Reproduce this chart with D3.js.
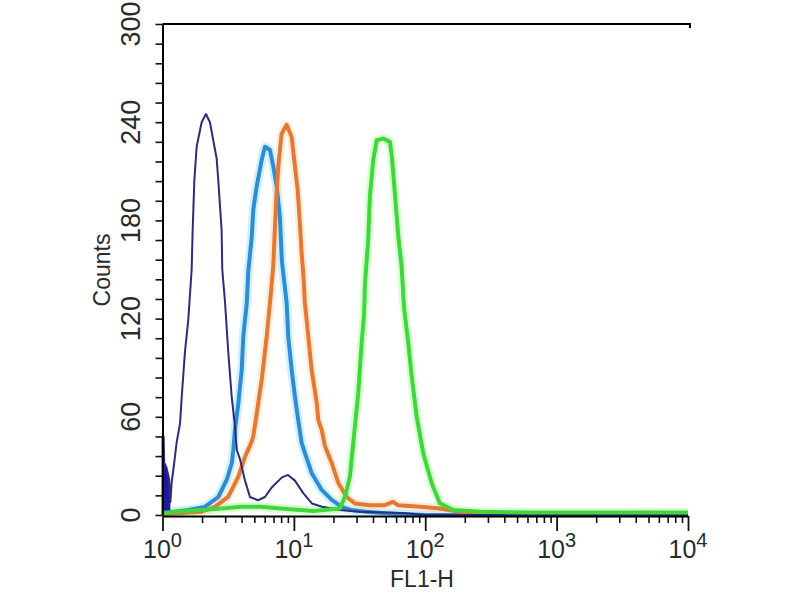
<!DOCTYPE html>
<html><head><meta charset="utf-8">
<script src="https://cdn.jsdelivr.net/npm/d3@7"></script>
<style>body{margin:0;background:#fff}</style>
</head><body>
<svg id="c" width="800" height="600"></svg>
<script>
// ---- data (FL1-H value, counts) ----
const yTickValues = [0, 60, 120, 180, 240, 300];
const xDecades = [1, 10, 100, 1000, 10000];
const xDecadeExponents = ["0", "1", "2", "3", "4"];
const xAxisTitle = "FL1-H";
const yAxisTitle = "Counts";

const navyX = [1, 1, 1.02, 1.03, 1.072, 1.122, 1.148, 1.175, 1.22, 1.28, 1.36, 1.40, 1.48, 1.57, 1.667, 1.694, 1.746, 1.82, 1.986, 2.143, 2.296, 2.582, 2.661, 2.818, 2.851, 2.992, 3.17, 3.365, 3.565, 3.673, 3.89, 4.246, 4.634, 5.333, 6.026, 6.808, 8.11, 9.016, 10.19, 11.75, 13.74, 16.37, 22.39, 31.62, 50.12, 70.8, 100, 10000];
const navyY = [0, 48, 48, 32, 29, 22, 8, 20, 30, 44, 56, 72, 99, 119, 150, 172, 204, 225, 240, 245, 240, 218, 204, 174, 150, 130, 99, 72, 54, 40, 34, 21, 11, 9, 11, 17, 23, 24.5, 21, 13.5, 7, 5, 3, 2, 1.5, 1, 0, 0];
const navySpikeEnd = 1.15;

const blueX = [1, 1.17, 1.56, 2.10, 2.66, 3.08, 3.37, 3.46, 3.56, 3.78, 4.01, 4.12, 4.38, 4.50, 4.78, 4.91, 5.21, 5.69, 6.03, 6.58, 6.97, 7.40, 7.83, 8.11, 8.81, 9.06, 9.62, 10.19, 10.79, 11.46, 12.13, 13.65, 16.29, 19.41, 23.12, 27.5, 35.5, 50, 100, 10000];
const blueY = [1.5, 1.8, 3, 4.9, 11, 21.4, 31.8, 39.7, 52, 68.5, 88.7, 109, 129.6, 149, 170, 186.5, 200.7, 217, 225, 223, 213, 200.7, 182, 155, 129.6, 109, 88.7, 72.3, 58, 44, 38, 25.7, 15.3, 9.2, 4.9, 3, 2, 1, 0, 0];

const orangeX = [1, 1.99, 2.51, 3.17, 3.78, 4.25, 4.78, 4.91, 5.36, 5.69, 6.21, 6.58, 6.97, 7.18, 7.40, 7.69, 8.07, 8.81, 9.62, 10.19, 10.69, 11.12, 11.46, 11.80, 12.13, 12.88, 13.65, 14.93, 15.35, 16.29, 17.26, 19.41, 21.78, 25.23, 29.17, 37.93, 49.32, 56.75, 61.94, 91.2, 128.8, 182, 263, 10000];
const orangeY = [0.5, 2, 5, 11.2, 23.4, 35.6, 45, 48, 68.5, 82.5, 109, 129.6, 152, 176, 198.7, 217, 233, 238.4, 231, 213, 198.7, 178, 160, 147, 129.6, 109, 88.7, 68.5, 58, 52, 42, 31.8, 19.6, 11, 7, 6, 6, 8, 6, 5, 4, 2, 0.5, 0];

const greenX = [1, 1.259, 1.995, 2.818, 3.98, 5.62, 7.94, 11.2, 14.1, 22.4, 24.5, 26.7, 28.3, 30.9, 32.8, 34.2, 34.8, 36.8, 37.9, 40.2, 42.7, 47.9, 53.8, 55.7, 58.7, 62.4, 66.1, 68.9, 74.3, 78.9, 86.1, 96.6, 112, 129, 163, 263, 631, 2000, 6310, 10000];
const greenY = [1, 2, 3, 4, 5, 5, 4, 3, 2.5, 4, 11.2, 23.4, 43.8, 74.4, 105, 122, 141.8, 168, 194.6, 217, 229, 230, 228, 219, 196.7, 170, 151.8, 127, 105, 84.6, 60, 37.7, 19.4, 7.2, 3, 2, 1.5, 1.5, 1.5, 1.5];

// ---- drawing ----
const svg = d3.select("#c");
const x = d3.scaleLog().domain([1, 10000]).range([162.5, 688]);
const y = d3.scaleLinear().domain([0, 300]).range([515, 24]);
const font = "'Liberation Sans', Arial, sans-serif";

const zip = (xs, ys) => xs.map((v, i) => [v, ys[i]]);
const line = d3.line().x(d => x(d[0])).y(d => y(d[1]));

svg.append("clipPath").attr("id", "clip").append("rect")
  .attr("x", 160).attr("y", 22).attr("width", 532).attr("height", 496);
const plot = svg.append("g").attr("clip-path", "url(#clip)");

const series = [
  {d: zip(blueX, blueY), color: "#2f8cd2", w: 4, halo: "#a8e6ff"},
  {d: zip(orangeX, orangeY), color: "#e07a34", w: 4, halo: "#ffdcbc"},
  {d: zip(navyX, navyY), color: "#2e2c78", w: 2, halo: null},
  {d: zip(greenX, greenY), color: "#40d63c", w: 4, halo: "#b8ffb0"}
];
series.forEach(s => {
  if (s.halo) plot.append("path").attr("d", line(s.d)).attr("fill", "none")
    .attr("stroke", s.halo).attr("stroke-width", s.w + 5).attr("stroke-opacity", 0.55)
    .attr("stroke-linejoin", "round");
});
// navy spike fill at first channels
const navySpike = zip(navyX, navyY).filter(d => d[0] <= navySpikeEnd);
plot.append("path")
  .attr("d", d3.area().x(d => x(d[0])).y0(y(0)).y1(d => y(d[1]))(navySpike))
  .attr("fill", "#1d1a9a");
series.forEach(s => {
  plot.append("path").attr("d", line(s.d)).attr("fill", "none")
    .attr("stroke", s.color).attr("stroke-width", s.w).attr("stroke-linejoin", "round");
});

// ---- axes ----
const minorY = d3.range(0, 301, 12);
const gy = svg.append("g").attr("transform", `translate(${x(1)},0)`)
  .call(d3.axisLeft(y).tickValues(minorY).tickSize(7).tickSizeOuter(0).tickFormat(""));
gy.select(".domain").attr("stroke", "#000").attr("stroke-width", 2);
gy.selectAll(".tick line").attr("stroke", "#111").attr("stroke-width", 1.6);

const minorX = [];
xDecades.slice(0, -1).forEach(dv => { for (let k = 2; k <= 9; k++) minorX.push(dv * k); });
const gx = svg.append("g").attr("transform", `translate(0,${y(0) + 1})`)
  .call(d3.axisBottom(x).tickValues(minorX).tickSize(7).tickSizeOuter(0).tickFormat(""));
gx.select(".domain").attr("stroke", "#000").attr("stroke-width", 2);
gx.selectAll(".tick line").attr("stroke", "#111").attr("stroke-width", 1.6);
const gx2 = svg.append("g").attr("transform", `translate(0,${y(0) + 1})`)
  .call(d3.axisBottom(x).tickValues(xDecades).tickSize(15).tickSizeOuter(0).tickFormat(""));
gx2.select(".domain").remove();
gx2.selectAll(".tick line").attr("stroke", "#111").attr("stroke-width", 1.8);

// top frame line
svg.append("line").attr("x1", x(1)).attr("x2", x(10000) + 2)
  .attr("y1", y(300)).attr("y2", y(300)).attr("stroke", "#000").attr("stroke-width", 2);
svg.append("line").attr("x1", x(10000) + 2).attr("x2", x(10000) + 2)
  .attr("y1", y(300) - 1).attr("y2", y(300) + 4).attr("stroke", "#000").attr("stroke-width", 2);

// y tick labels (rotated)
yTickValues.forEach(v => {
  svg.append("text").attr("x", 140).attr("y", y(v))
    .attr("transform", `rotate(-90,140,${y(v)})`)
    .attr("text-anchor", "middle").attr("font-family", font).attr("font-size", 27)
    .attr("fill", "#2a2a2a").text(v);
});
// x tick labels with superscripts
xDecades.forEach((dv, i) => {
  const t = svg.append("text").attr("x", x(dv)).attr("y", 558)
    .attr("text-anchor", "middle").attr("font-family", font).attr("font-size", 25)
    .attr("fill", "#2a2a2a");
  t.append("tspan").text("10");
  t.append("tspan").attr("dy", -11).attr("font-size", 20).text(xDecadeExponents[i]);
});
// axis titles
svg.append("text").attr("x", 422).attr("y", 587).attr("text-anchor", "middle")
  .attr("font-family", font).attr("font-size", 23).attr("fill", "#2a2a2a").text(xAxisTitle);
svg.append("text").attr("x", 110).attr("y", 270)
  .attr("transform", "rotate(-90,110,270)").attr("text-anchor", "middle")
  .attr("font-family", font).attr("font-size", 23).attr("fill", "#2a2a2a").text(yAxisTitle);
</script>
</body></html>
